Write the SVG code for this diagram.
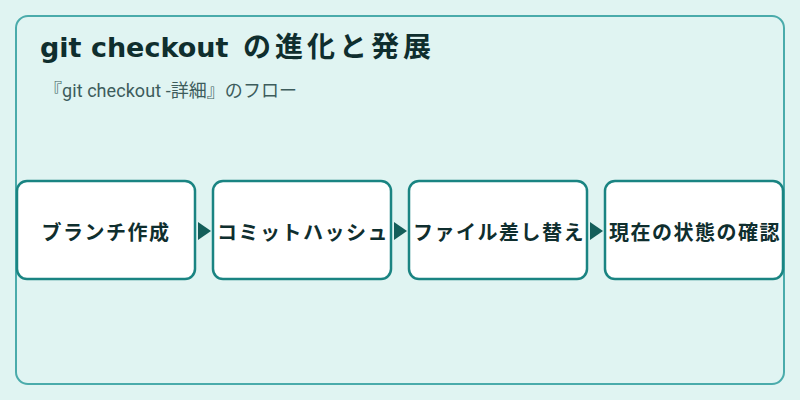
<svg xmlns="http://www.w3.org/2000/svg" width="800" height="400" viewBox="0 0 800 400">
  <defs>
    <style>
      .node rect { fill: #ffffff; stroke: #1a8482; stroke-width: 2.5; }
      .node text { font-family: "Noto Sans CJK JP", "Noto Sans", sans-serif; font-size: 20px; font-weight: bold; fill: #0f2e2e; text-anchor: middle; dominant-baseline: central; letter-spacing: 1.5px; }
      .arrowhead { fill: #145e5a; }
      .title { font-weight: bold; fill: #0f2e2e; }
      .title-latin { font-family: "DejaVu Sans", sans-serif; font-size: 27px; }
      .title-cjk { font-family: "Noto Sans CJK JP", sans-serif; font-size: 28px; letter-spacing: 4px; }
      .subtitle { font-family: Roboto, "Noto Sans CJK JP", sans-serif; font-size: 18px; fill: #3d5c5c; }
    </style>
  </defs>
  <rect x="0" y="0" width="800" height="400" fill="#e0f4f2"/>
  <rect x="16" y="16" width="768" height="368" rx="12" ry="12" fill="#e0f4f2" stroke="#4aabab" stroke-width="2"/>
  <text class="title" x="40" y="57"><tspan class="title-latin">git checkout </tspan><tspan class="title-cjk" x="243">の進化と発展</tspan></text>
  <text class="subtitle" x="44" y="97" textLength="253" lengthAdjust="spacing">『git checkout -詳細』のフロー</text>

  <g id="connectors">
    <polygon class="arrowhead" points="198,222 211,231 198,240"/>
    <polygon class="arrowhead" points="394,222 407,231 394,240"/>
    <polygon class="arrowhead" points="590,222 603,231 590,240"/>
  </g>

  <g id="node1" class="node">
    <rect x="17" y="181" width="178" height="98" rx="10" ry="10"/>
    <text x="106" y="231">ブランチ作成</text>
  </g>
  <g id="node2" class="node">
    <rect x="213" y="181" width="178" height="98" rx="10" ry="10"/>
    <text x="303" y="231">コミットハッシュ</text>
  </g>
  <g id="node3" class="node">
    <rect x="409" y="181" width="178" height="98" rx="10" ry="10"/>
    <text x="499" y="231">ファイル差し替え</text>
  </g>
  <g id="node4" class="node">
    <rect x="605" y="181" width="178" height="98" rx="10" ry="10"/>
    <text x="695" y="231">現在の状態の確認</text>
  </g>
</svg>
